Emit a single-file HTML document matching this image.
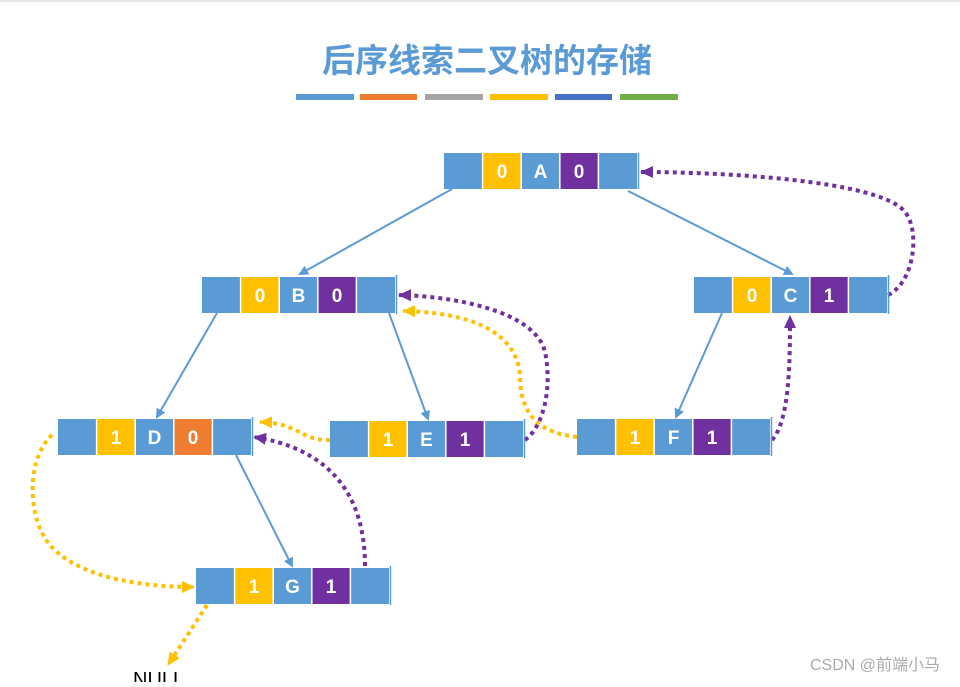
<!DOCTYPE html>
<html><head><meta charset="utf-8"><style>
body{margin:0;width:960px;height:682px;overflow:hidden;background:#fff;font-family:"Liberation Sans","Noto Sans CJK SC",sans-serif}
</style></head><body>
<svg width="960" height="682" viewBox="0 0 960 682" xmlns="http://www.w3.org/2000/svg" font-family="Liberation Sans, Noto Sans CJK SC, sans-serif">
<defs>
<marker id="ab" markerWidth="10" markerHeight="10" refX="8" refY="5" orient="auto" markerUnits="userSpaceOnUse"><path d="M0,0 L10,5 L0,10 z" fill="#5B9BD5"/></marker>
<marker id="ap" markerWidth="14" markerHeight="14" refX="12" refY="7" orient="auto" markerUnits="userSpaceOnUse"><path d="M0,1 L13,7 L0,13 z" fill="#7030A0"/></marker>
<marker id="ay" markerWidth="14" markerHeight="14" refX="12" refY="7" orient="auto" markerUnits="userSpaceOnUse"><path d="M0,1 L13,7 L0,13 z" fill="#FFC000"/></marker>
</defs>
<line x1="0" y1="1" x2="960" y2="1" stroke="#ccc"/>
<text x="487" y="72" text-anchor="middle" font-size="33" font-weight="bold" fill="#5B9BD5" font-family="Noto Sans CJK SC, sans-serif">后序线索二叉树的存储</text>
<rect x="296" y="94" width="58" height="6" fill="#5B9BD5"/>
<rect x="360" y="94" width="57" height="6" fill="#ED7D31"/>
<rect x="425" y="94" width="58" height="6" fill="#A5A5A5"/>
<rect x="490" y="94" width="58" height="6" fill="#FFC000"/>
<rect x="555" y="94" width="57" height="6" fill="#4472C4"/>
<rect x="620" y="94" width="58" height="6" fill="#70AD47"/>

<g stroke="#5B9BD5" stroke-width="2" fill="none" marker-end="url(#ab)">
<line x1="452" y1="189" x2="300" y2="274"/>
<line x1="628" y1="191" x2="792" y2="274"/>
<line x1="217" y1="313" x2="157" y2="417"/>
<line x1="389" y1="313" x2="428" y2="419"/>
<line x1="722" y1="313" x2="676" y2="417"/>
<line x1="236" y1="455" x2="292" y2="566"/>
</g>

<g stroke="#7030A0" stroke-width="4" stroke-dasharray="4 4" fill="none" marker-end="url(#ap)">
<path d="M888,295 C915,282 920,230 905,212 C880,180 720,172 641,172"/>
<path d="M525,440 C545,425 552,385 545,352 C535,310 450,296 399,295"/>
<path d="M772,440 C790,420 790,360 790,316"/>
<path d="M365,566 C365,490 325,448 254,437"/>
</g>
<g stroke="#FFC000" stroke-width="4" stroke-dasharray="4 4" fill="none" marker-end="url(#ay)">
<path d="M577,437 C530,432 520,405 520,375 C515,322 450,312 403,311"/>
<path d="M330,440 C300,441 300,423 260,422"/>
<path d="M52,435 C25,460 28,520 50,545 C80,580 150,587 194,587"/>
<path d="M207,605 L168,665"/>
</g>

<g font-size="19" font-weight="bold" fill="#fff" text-anchor="middle" stroke="#fff" stroke-width="0">
<g transform="translate(444,153)">
<rect x="0" y="0" width="38.6" height="36" fill="#5B9BD5"/><rect x="38.6" y="0" width="38.6" height="36" fill="#FFC000"/><rect x="77.2" y="0" width="38.6" height="36" fill="#5B9BD5"/><rect x="115.8" y="0" width="38.6" height="36" fill="#7030A0"/><rect x="154.4" y="0" width="38.6" height="36" fill="#5B9BD5"/>
<g stroke="#fff" stroke-width="1.5"><line x1="38.6" y1="0" x2="38.6" y2="36"/><line x1="77.2" y1="0" x2="77.2" y2="36"/><line x1="115.8" y1="0" x2="115.8" y2="36"/><line x1="154.4" y1="0" x2="154.4" y2="36"/></g>
<text x="58" y="25">0</text><text x="96.5" y="25">A</text><text x="135" y="25">0</text></g>

<g transform="translate(202,277)">
<rect x="0" y="0" width="38.6" height="36" fill="#5B9BD5"/><rect x="38.6" y="0" width="38.6" height="36" fill="#FFC000"/><rect x="77.2" y="0" width="38.6" height="36" fill="#5B9BD5"/><rect x="115.8" y="0" width="38.6" height="36" fill="#7030A0"/><rect x="154.4" y="0" width="38.6" height="36" fill="#5B9BD5"/>
<g stroke="#fff" stroke-width="1.5"><line x1="38.6" y1="0" x2="38.6" y2="36"/><line x1="77.2" y1="0" x2="77.2" y2="36"/><line x1="115.8" y1="0" x2="115.8" y2="36"/><line x1="154.4" y1="0" x2="154.4" y2="36"/></g>
<text x="58" y="25">0</text><text x="96.5" y="25">B</text><text x="135" y="25">0</text></g>

<g transform="translate(694,277)">
<rect x="0" y="0" width="38.6" height="36" fill="#5B9BD5"/><rect x="38.6" y="0" width="38.6" height="36" fill="#FFC000"/><rect x="77.2" y="0" width="38.6" height="36" fill="#5B9BD5"/><rect x="115.8" y="0" width="38.6" height="36" fill="#7030A0"/><rect x="154.4" y="0" width="38.6" height="36" fill="#5B9BD5"/>
<g stroke="#fff" stroke-width="1.5"><line x1="38.6" y1="0" x2="38.6" y2="36"/><line x1="77.2" y1="0" x2="77.2" y2="36"/><line x1="115.8" y1="0" x2="115.8" y2="36"/><line x1="154.4" y1="0" x2="154.4" y2="36"/></g>
<text x="58" y="25">0</text><text x="96.5" y="25">C</text><text x="135" y="25">1</text></g>

<g transform="translate(58,419)">
<rect x="0" y="0" width="38.6" height="36" fill="#5B9BD5"/><rect x="38.6" y="0" width="38.6" height="36" fill="#FFC000"/><rect x="77.2" y="0" width="38.6" height="36" fill="#5B9BD5"/><rect x="115.8" y="0" width="38.6" height="36" fill="#ED7D31"/><rect x="154.4" y="0" width="38.6" height="36" fill="#5B9BD5"/>
<g stroke="#fff" stroke-width="1.5"><line x1="38.6" y1="0" x2="38.6" y2="36"/><line x1="77.2" y1="0" x2="77.2" y2="36"/><line x1="115.8" y1="0" x2="115.8" y2="36"/><line x1="154.4" y1="0" x2="154.4" y2="36"/></g>
<text x="58" y="25">1</text><text x="96.5" y="25">D</text><text x="135" y="25">0</text></g>

<g transform="translate(330,421)">
<rect x="0" y="0" width="38.6" height="36" fill="#5B9BD5"/><rect x="38.6" y="0" width="38.6" height="36" fill="#FFC000"/><rect x="77.2" y="0" width="38.6" height="36" fill="#5B9BD5"/><rect x="115.8" y="0" width="38.6" height="36" fill="#7030A0"/><rect x="154.4" y="0" width="38.6" height="36" fill="#5B9BD5"/>
<g stroke="#fff" stroke-width="1.5"><line x1="38.6" y1="0" x2="38.6" y2="36"/><line x1="77.2" y1="0" x2="77.2" y2="36"/><line x1="115.8" y1="0" x2="115.8" y2="36"/><line x1="154.4" y1="0" x2="154.4" y2="36"/></g>
<text x="58" y="25">1</text><text x="96.5" y="25">E</text><text x="135" y="25">1</text></g>

<g transform="translate(577,419)">
<rect x="0" y="0" width="38.6" height="36" fill="#5B9BD5"/><rect x="38.6" y="0" width="38.6" height="36" fill="#FFC000"/><rect x="77.2" y="0" width="38.6" height="36" fill="#5B9BD5"/><rect x="115.8" y="0" width="38.6" height="36" fill="#7030A0"/><rect x="154.4" y="0" width="38.6" height="36" fill="#5B9BD5"/>
<g stroke="#fff" stroke-width="1.5"><line x1="38.6" y1="0" x2="38.6" y2="36"/><line x1="77.2" y1="0" x2="77.2" y2="36"/><line x1="115.8" y1="0" x2="115.8" y2="36"/><line x1="154.4" y1="0" x2="154.4" y2="36"/></g>
<text x="58" y="25">1</text><text x="96.5" y="25">F</text><text x="135" y="25">1</text></g>

<g transform="translate(196,568)">
<rect x="0" y="0" width="38.6" height="36" fill="#5B9BD5"/><rect x="38.6" y="0" width="38.6" height="36" fill="#FFC000"/><rect x="77.2" y="0" width="38.6" height="36" fill="#5B9BD5"/><rect x="115.8" y="0" width="38.6" height="36" fill="#7030A0"/><rect x="154.4" y="0" width="38.6" height="36" fill="#5B9BD5"/>
<g stroke="#fff" stroke-width="1.5"><line x1="38.6" y1="0" x2="38.6" y2="36"/><line x1="77.2" y1="0" x2="77.2" y2="36"/><line x1="115.8" y1="0" x2="115.8" y2="36"/><line x1="154.4" y1="0" x2="154.4" y2="36"/></g>
<text x="58" y="25">1</text><text x="96.5" y="25">G</text><text x="135" y="25">1</text></g>
</g>
<g stroke="#5B9BD5" stroke-width="1.5">
<line x1="638.5" y1="153" x2="638.5" y2="189"/><line x1="396.5" y1="275" x2="396.5" y2="314"/><line x1="888.5" y1="275" x2="888.5" y2="314"/><line x1="252.5" y1="417" x2="252.5" y2="456"/><line x1="524.5" y1="419" x2="524.5" y2="458"/><line x1="771.5" y1="417" x2="771.5" y2="456"/><line x1="390.5" y1="566" x2="390.5" y2="605"/>
</g>
<text x="133" y="686" font-size="20" fill="#000">NULL</text>
<text x="810" y="670" font-size="16" fill="#aaa">CSDN @前端小马</text>
</svg>
</body></html>
